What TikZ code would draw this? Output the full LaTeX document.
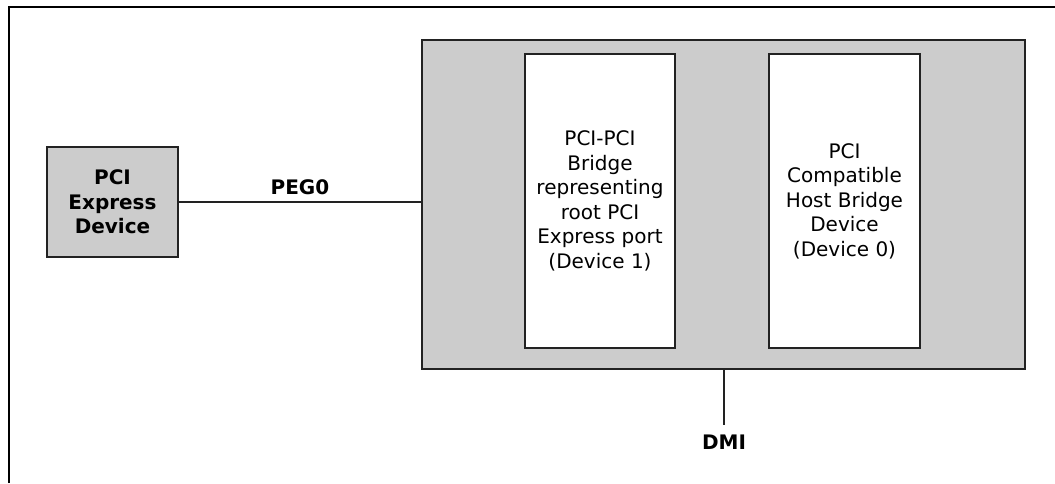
\documentclass[tikz,border=0pt]{standalone}
\usepackage{fontspec}
\setmainfont{DejaVu Sans}
\definecolor{boxgray}{HTML}{CCCCCC}
\definecolor{edge}{HTML}{222222}
\begin{document}
\begin{tikzpicture}[x=1pt,y=-1pt,
  txt/.style={font=\fontsize{20}{24.5}\selectfont, align=center, inner sep=0pt},
  btxt/.style={font=\fontsize{20}{24.5}\selectfont\bfseries, align=center, inner sep=0pt},
  graybox/.style={draw=edge, line width=1.3pt, fill=boxgray, rectangle, inner sep=0pt},
  whitebox/.style={draw=edge, line width=1.3pt, fill=white, rectangle, inner sep=0pt},
  conn/.style={draw=edge, line width=1.3pt}]
\useasboundingbox (0,0) rectangle (1055,483);
% outer frame
\draw[line width=2.5pt] (9,483) -- (9,7) -- (1055,7);
% main gray box
\node[graybox, minimum width=603pt, minimum height=329pt] (host) at (723.5,204.5) {};
\node[whitebox, minimum width=150pt, minimum height=294pt, txt] (dev1) at (600,201)
  {PCI-PCI\\Bridge\\representing\\root PCI\\Express port\\(Device 1)};
\node[whitebox, minimum width=151pt, minimum height=294pt, txt] (dev0) at (844.5,201)
  {PCI\\Compatible\\Host Bridge\\Device\\(Device 0)};
% PCI Express device
\node[graybox, minimum width=131pt, minimum height=110pt, btxt] (pcie) at (112.5,202)
  {PCI\\Express\\Device};
% PEG0 link
\draw[conn] (pcie.east) -- (pcie.east -| host.west);
\node[btxt] (peg) at (300,187) {PEG0};
% DMI link
\coordinate (dmiend) at (724,425);
\draw[conn] (host.south -| dmiend) -- (dmiend);
\node[btxt] (dmi) at (724,442) {DMI};
\end{tikzpicture}
\end{document}
